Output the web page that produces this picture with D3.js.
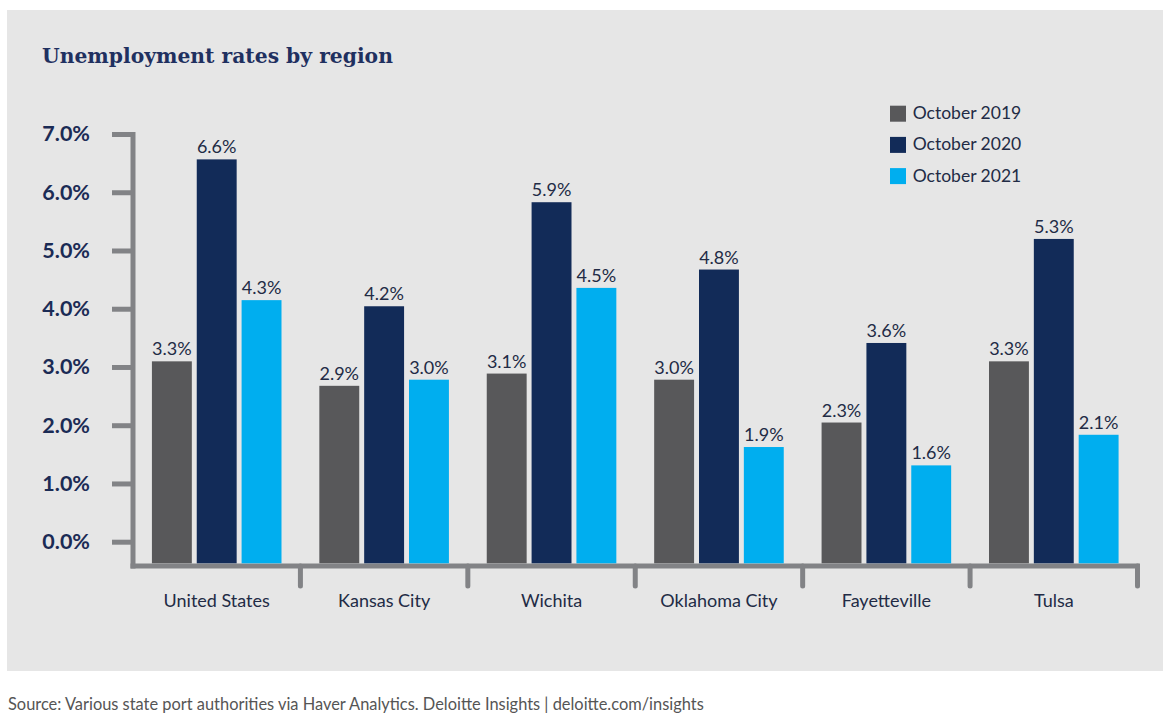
<!DOCTYPE html>
<html>
<head>
<meta charset="utf-8">
<script src="https://cdn.jsdelivr.net/npm/d3@7"></script>
<style>
  html, body { margin: 0; padding: 0; background: #ffffff; }
  svg { display: block; }
</style>
</head>
<body>
<svg id="chart" width="1175" height="721"></svg>
<script>
// ---- data ----
const categories = ["United States", "Kansas City", "Wichita", "Oklahoma City", "Fayetteville", "Tulsa"];
const seriesNames = ["October 2019", "October 2020", "October 2021"];
const oct2019 = [3.3, 2.9, 3.1, 3.0, 2.3, 3.3];
const oct2020 = [6.6, 4.2, 5.9, 4.8, 3.6, 5.3];
const oct2021 = [4.3, 3.0, 4.5, 1.9, 1.6, 2.1];
const yTicks = [0, 1, 2, 3, 4, 5, 6, 7];
const seriesColors = ["#58585a", "#122b58", "#00aeef"];

const values = [oct2019, oct2020, oct2021];

const svg = d3.select("#chart");
const navy = "#1b2b55";
const textDark = "#222b45";
const axisGray = "#828386";
const sans = "Lato, 'Open Sans', sans-serif";

// panel background
svg.append("rect").attr("x", 7).attr("y", 10).attr("width", 1156).attr("height", 661).attr("fill", "#e6e6e6");

// title
svg.append("text").attr("x", 42).attr("y", 63)
  .attr("font-family", "'DejaVu Serif', serif").attr("font-weight", "bold")
  .attr("font-size", 20.3).attr("fill", "#1f3060")
  .text("Unemployment rates by region");

// scales
const x0 = d3.scaleBand().domain(categories).range([133, 1137.5]).paddingInner(0.226).paddingOuter(0.113);
const x1 = d3.scaleBand().domain(seriesNames).range([0, x0.bandwidth()]).paddingInner(0.11);
const yBar = d3.scaleLinear().domain([0, 7]).range([563.3, 563.3 - 7 * 61.2]);
const yAxisScale = d3.scaleLinear().domain([0, 7]).range([541.7, 134]);

// y axis
const yAxis = d3.axisLeft(yAxisScale).tickValues(yTicks).tickSize(21).tickSizeOuter(0).tickPadding(22)
  .tickFormat(d => d3.format(".1f")(d) + "%");
const gy = svg.append("g").attr("transform", "translate(133,0)").call(yAxis);
gy.select(".domain").remove();
gy.selectAll(".tick line").attr("stroke", axisGray).attr("stroke-width", 5);
gy.selectAll(".tick text").attr("font-family", sans).attr("font-weight", "bold")
  .attr("font-size", 21.5).attr("fill", navy);

// axis lines
const axisG = svg.append("g");
axisG.append("line").attr("x1", 133).attr("x2", 133).attr("y1", yAxisScale(7) - 2).attr("y2", 568.5)
  .attr("stroke", axisGray).attr("stroke-width", 5);
const xEnd = x0.range()[1];
axisG.append("line").attr("x1", 130.5).attr("x2", xEnd + 2.5).attr("y1", 566).attr("y2", 566)
  .attr("stroke", axisGray).attr("stroke-width", 5);
// category boundary ticks
const halfGap = x0.step() * x0.paddingInner() / 2;
const bounds = categories.slice(1).map(c => x0(c) - halfGap).concat([xEnd]);
axisG.selectAll("line.cb").data(bounds).enter().append("line").attr("class", "cb")
  .attr("x1", d => d).attr("x2", d => d).attr("y1", 566).attr("y2", 586)
  .attr("stroke", axisGray).attr("stroke-width", 5).attr("stroke-linecap", "round");

// bars
const groups = svg.append("g").selectAll("g").data(categories).enter().append("g")
  .attr("transform", c => `translate(${x0(c)},0)`);
groups.each(function(c, i) {
  const g = d3.select(this);
  seriesNames.forEach((s, j) => {
    const v = values[j][i];
    g.append("rect").attr("x", x1(s)).attr("y", yBar(v)).attr("width", x1.bandwidth())
      .attr("height", yBar(0) - yBar(v)).attr("fill", seriesColors[j]);
    g.append("text").attr("x", x1(s) + x1.bandwidth() / 2).attr("y", yBar(v) - 6)
      .attr("text-anchor", "middle").attr("font-family", sans).attr("font-size", 18)
      .attr("fill", textDark).text(d3.format(".1f")(v) + "%");
  });
});

// category labels
svg.append("g").selectAll("text").data(categories).enter().append("text")
  .attr("x", c => x0(c) + x0.bandwidth() / 2).attr("y", 607)
  .attr("text-anchor", "middle").attr("font-family", sans).attr("font-size", 18)
  .attr("fill", textDark).text(c => c);

// legend
const legend = svg.append("g").selectAll("g").data(seriesNames).enter().append("g")
  .attr("transform", (d, i) => `translate(890,${105.7 + i * 31.2})`);
legend.append("rect").attr("width", 16).attr("height", 16).attr("fill", (d, i) => seriesColors[i]);
legend.append("text").attr("x", 22.7).attr("y", 13.5).attr("font-family", sans).attr("font-size", 17.5)
  .attr("fill", textDark).text(d => d);

// source
svg.append("text").attr("x", 8).attr("y", 710).attr("font-family", sans).attr("font-size", 16.4)
  .attr("fill", "#555555")
  .text("Source: Various state port authorities via Haver Analytics. Deloitte Insights | deloitte.com/insights");
</script>
</body>
</html>
